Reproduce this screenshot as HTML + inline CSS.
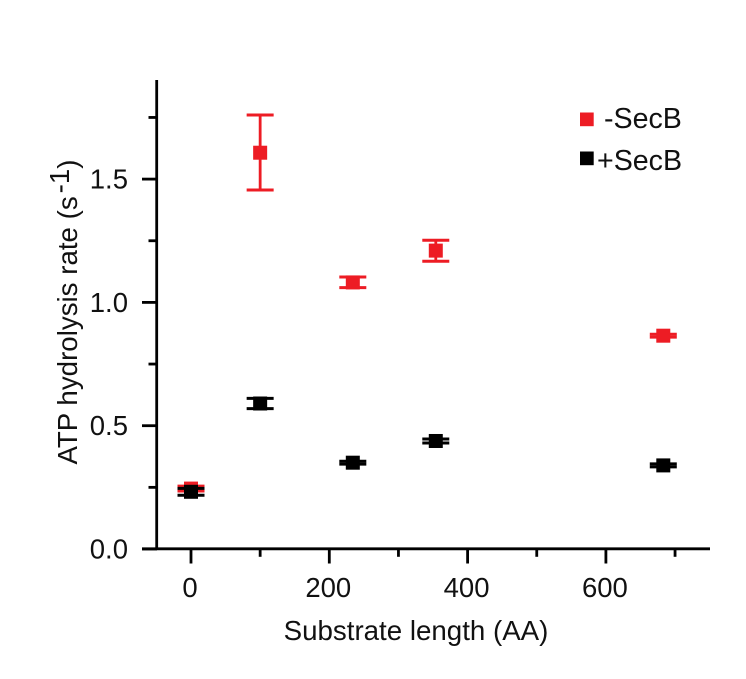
<!DOCTYPE html>
<html lang="en">
<head>
<meta charset="utf-8">
<title>ATP hydrolysis rate vs substrate length</title>
<style>
  html, body { margin: 0; padding: 0; background: #fff; }
  svg { display: block; font-family: "Liberation Sans", Arial, sans-serif; }
  text { fill: #111111; }
</style>
</head>
<body>
<svg id="chart" width="746" height="679" viewBox="0 0 746 679" xmlns="http://www.w3.org/2000/svg">
  <rect x="0" y="0" width="746" height="679" fill="#ffffff"/>
  <g id="marks"></g>
  <g id="axes"></g>
  <text x="416" y="640" font-size="27.7" text-anchor="middle">Substrate length (AA)</text>
  <text transform="translate(77,312) rotate(-90)" font-size="27.7" text-anchor="middle">ATP hydrolysis rate (s<tspan dx="3" dy="-8">-1</tspan><tspan dy="8">)</tspan></text>
  <g>
    <rect x="580" y="112.5" width="13.7" height="13.7" fill="#ed1c24"/>
    <text x="604" y="128" font-size="28.6">-SecB</text>
    <rect x="580" y="151.5" width="13.7" height="13.7" fill="#000000"/>
    <text x="597" y="170" font-size="28.6">+SecB</text>
  </g>
</svg>
<script>
const lengths = [0, 100, 234, 354, 683];
const redValues = [0.245, 1.607, 1.081, 1.21, 0.865];
const redUpper = [0.255, 1.76, 1.103, 1.252, 0.871];
const redLower = [0.235, 1.456, 1.06, 1.167, 0.859];
const blackValues = [0.232, 0.59, 0.35, 0.438, 0.339];
const blackUpper = [0.246, 0.611, 0.356, 0.446, 0.345];
const blackLower = [0.218, 0.569, 0.344, 0.43, 0.333];
const xMajorTicks = [0, 200, 400, 600];
const xMinorTicks = [100, 300, 500, 700];
const yMajorTicks = [0, 0.5, 1, 1.5];
const yMinorTicks = [0.25, 0.75, 1.25, 1.75];

const NS = 'http://www.w3.org/2000/svg';
const xScale = function (v) { return 191 + v * 0.6915; };
const yScale = function (v) { return 549 - v * 246.6; };
const axes = document.getElementById('axes');
const marks = document.getElementById('marks');

function line(parent, x1, y1, x2, y2, color, width) {
  const el = document.createElementNS(NS, 'line');
  el.setAttribute('x1', x1);
  el.setAttribute('y1', y1);
  el.setAttribute('x2', x2);
  el.setAttribute('y2', y2);
  el.setAttribute('stroke', color);
  el.setAttribute('stroke-width', width);
  parent.appendChild(el);
  return el;
}

function label(parent, x, y, anchor, str) {
  const el = document.createElementNS(NS, 'text');
  el.setAttribute('x', x);
  el.setAttribute('y', y);
  el.setAttribute('text-anchor', anchor);
  el.setAttribute('font-size', '27.5');
  el.textContent = str;
  parent.appendChild(el);
  return el;
}

const yAxisLine = line(axes, 156.7, 80, 156.7, 550, '#000', 2.8);


const xAxisLine = line(axes, 142, 548.8, 710, 548.8, '#000', 2.8);



yMajorTicks.forEach(function (v) {
  const t = line(axes, 142, yScale(v), 157, yScale(v), '#000', 2.8);
  
  
  const l = label(axes, 128, yScale(v) + 9.5, 'end', v.toFixed(1));
  
  
});
yMinorTicks.forEach(function (v) {
  const t = line(axes, 148.5, yScale(v), 157, yScale(v), '#000', 2.8);
  
  
});
xMajorTicks.forEach(function (v) {
  const t = line(axes, xScale(v), 549, xScale(v), 563.5, '#000', 2.8);
  
  
  const l = label(axes, xScale(v) - 1, 597, 'middle', String(v));
  
  
});
xMinorTicks.forEach(function (v) {
  const t = line(axes, xScale(v), 549, xScale(v), 556.8, '#000', 2.8);
  
  
});

function drawSeries(name, color, values, upper, lower) {
  const group = document.createElementNS(NS, 'g');
  
  
  marks.appendChild(group);
  values.forEach(function (v, i) {
    const cx = xScale(lengths[i]);
    const stem = line(group, cx, yScale(upper[i]), cx, yScale(lower[i]), color, 2.8);
    
    
    const capTop = line(group, cx - 13.5, yScale(upper[i]), cx + 13.5, yScale(upper[i]), color, 3);
    
    
    const capBottom = line(group, cx - 13.5, yScale(lower[i]), cx + 13.5, yScale(lower[i]), color, 3);
    
    
    const point = document.createElementNS(NS, 'rect');
    point.setAttribute('x', cx - 7);
    point.setAttribute('y', yScale(v) - 7);
    point.setAttribute('width', 14);
    point.setAttribute('height', 14);
    point.setAttribute('fill', color);
    
    
    group.appendChild(point);
  });
}

drawSeries('minus-secb', '#ed1c24', redValues, redUpper, redLower);
drawSeries('plus-secb', '#000000', blackValues, blackUpper, blackLower);
</script>
</body>
</html>
